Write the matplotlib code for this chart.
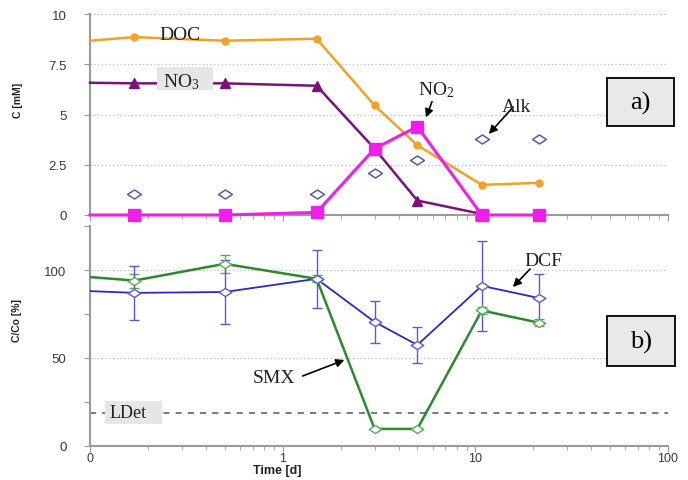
import matplotlib
matplotlib.use("Agg")
import matplotlib.pyplot as plt
from matplotlib.patches import Rectangle
from matplotlib.path import Path
from matplotlib.ticker import FixedLocator, LogLocator, NullFormatter

plt.rcParams["font.family"] = ["Liberation Sans", "DejaVu Sans"]
plt.rcParams["mathtext.fontset"] = "stix"

# data (first point of each line sits on the axis at t = 0.1)
time_d = [0.1, 0.17, 0.5, 1.5, 3, 5, 10.8, 21.5]
doc_mm = [8.67, 8.85, 8.67, 8.77, 5.45, 3.47, 1.5, 1.6]
no3_mm = [6.58, 6.55, 6.55, 6.43, 3.3, 0.72, 0.05]
no2_mm = [0, 0, 0, 0.13, 3.3, 4.4, 0, 0]
alk_time = [0.17, 0.5, 1.5, 3, 5, 10.8, 21.5]
alk_mm = [1.05, 1.05, 1.05, 2.1, 2.72, 3.8, 3.8]

smx_pct = [96, 94, 103.5, 95, 9.7, 9.7, 77, 70]
smx_err = [0, 4, 5, 2, 0, 0, 2, 2]
dcf_pct = [88, 87, 87.5, 95, 70.5, 57.4, 91, 84]
dcf_err = [0, 15.5, 18, 16.5, 12, 10, 25.5, 14]
ldet_pct = 19

W, H = 688, 481

ORANGE = "#f2a127"
PURPLE = "#7a127a"
MAGENTA = "#f01ee8"
NAVY = "#5a5aa8"
BLUE = "#2a2ac6"
GREEN = "#2b8a2b"
SPINE = "#9a9a9a"

# flat open diamond like the original markers
diamond = Path([(-1, 0), (0, 0.65), (1, 0), (0, -0.65), (-1, 0)],
               [Path.MOVETO, Path.LINETO, Path.LINETO, Path.LINETO, Path.CLOSEPOLY])


def px(x, y):
    return x / W, 1 - y / H


def style_axes(ax, yticks, ylabels, grid_vals, ylim):
    ax.set_xscale("log")
    ax.set_xlim(0.1, 100)
    ax.set_ylim(*ylim)
    for s in ("top", "right"):
        ax.spines[s].set_visible(False)
    for s in ("left", "bottom"):
        ax.spines[s].set_color(SPINE)
        ax.spines[s].set_linewidth(1.5)
    ax.yaxis.set_major_locator(FixedLocator(yticks))
    ax.set_yticklabels(ylabels)
    ax.xaxis.set_major_locator(FixedLocator([0.1, 1, 10, 100]))
    ax.xaxis.set_minor_locator(LogLocator(base=10, subs=range(2, 10)))
    ax.xaxis.set_minor_formatter(NullFormatter())
    ax.tick_params(axis="both", which="both", direction="out", color=SPINE,
                   labelcolor="#3a3a3a", labelsize=9.5)
    ax.tick_params(axis="x", which="major", length=4)
    ax.tick_params(axis="x", which="minor", length=3)
    ax.tick_params(axis="y", length=4, pad=13)
    for g in grid_vals:
        ax.axhline(g, color="#bdbdbd", lw=0.9, ls=(0, (1, 2)), zorder=0)
    ax.set_facecolor("none")


def label_box(fig, x0, y0, x1, y1, text, size, face="#e9e9e9", edge="black"):
    fx, fy = px(x0, y1)
    r = Rectangle((fx, fy), (x1 - x0) / W, (y1 - y0) / H, transform=fig.transFigure,
                  facecolor=face, edgecolor=edge, lw=1.3, zorder=5)
    fig.add_artist(r)
    cx, cy = px((x0 + x1) / 2, (y0 + y1) / 2)
    fig.text(cx, cy, text, ha="center", va="center", fontsize=size,
             family=["Liberation Serif"], zorder=6)


def grey_patch(fig, x0, y0, x1, y1):
    fx, fy = px(x0, y1)
    fig.add_artist(Rectangle((fx, fy), (x1 - x0) / W, (y1 - y0) / H,
                             transform=fig.transFigure, facecolor="#e6e6e6",
                             edgecolor="none", zorder=4))


def arrow(fig, text_xy, tip_xy, text, size=14):
    fig.add_artist(plt.Annotation(
        "", xy=px(*tip_xy), xytext=px(*text_xy[2:]), xycoords="figure fraction",
        textcoords="figure fraction",
        arrowprops=dict(arrowstyle="-|>", color="black", lw=1.2, mutation_scale=12),
        zorder=7))
    fig.text(*px(*text_xy[:2]), text, ha="center", va="center", fontsize=size,
             family=["Liberation Serif"], color="#222222", zorder=7)


fig = plt.figure(figsize=(W / 100, H / 100), dpi=100)

# panel a
ax1 = fig.add_axes([90 / W, 1 - 216 / H, 578 / W, 201 / H])
style_axes(ax1, [0, 2.5, 5, 7.5, 10], ["0", "2.5", "5", "7.5", "10"],
           [2.5, 5, 7.5, 10], (0, 10))
ax1.set_xticklabels([])
ax1.plot(time_d, doc_mm, color=ORANGE, lw=1.8, marker="o", ms=5,
         markevery=list(range(1, len(time_d))), clip_on=False, zorder=3)
ax1.plot(time_d[:len(no3_mm)], no3_mm, color=PURPLE, lw=1.8, marker="^", ms=7,
         markevery=list(range(1, len(no3_mm))), clip_on=False, zorder=3)
ax1.plot(time_d, no2_mm, color=MAGENTA, lw=2.2, marker="s", ms=8,
         markevery=list(range(1, len(time_d))), clip_on=False, zorder=4)
ax1.plot(alk_time, alk_mm, ls="none", marker=diamond, ms=10, mfc="white",
         mec=NAVY, mew=1.1, zorder=4)

# panel b
ax2 = fig.add_axes([90 / W, 1 - 447 / H, 578 / W, 220 / H])
style_axes(ax2, [0, 25, 50, 75, 100, 125], ["0", "", "50", "", "100", ""],
           [50, 100], (0, 125))
ax2.set_xticklabels(["0", "1", "10", "100"])
ax2.tick_params(axis="x", which="major", pad=0.5, labelsize=9)
ax2.axhline(ldet_pct, color="#555555", lw=1.1, ls=(0, (4, 4)), zorder=1)
ax2.plot(time_d, smx_pct, color=GREEN, lw=1.8, zorder=3)
ax2.errorbar(time_d[1:], smx_pct[1:], yerr=smx_err[1:], ls="none", marker=diamond,
             ms=9, mfc="white", mec="#5aaa5a", mew=1.0, ecolor="#5aaa5a",
             elinewidth=1, capsize=3.5, zorder=4)
ax2.plot(time_d, dcf_pct, color=BLUE, lw=1.3, zorder=3)
ax2.errorbar(time_d[1:], dcf_pct[1:], yerr=dcf_err[1:], ls="none", marker=diamond,
             ms=9, mfc="white", mec="#5a5ad8", mew=1.0, ecolor="#5a5ad0",
             elinewidth=1, capsize=3.5, zorder=4)

# axis titles
fig.text(*px(18, 100), "C [mM]", rotation=90, ha="center", va="center",
         fontsize=7.5, fontweight="bold", color="#222222")
fig.text(*px(17, 320), "C/Co [%]", rotation=90, ha="center", va="center",
         fontsize=7.5, fontweight="bold", color="#222222")
fig.text(*px(277, 471), "Time [d]", ha="center", va="center",
         fontsize=9, fontweight="bold", color="#222222")

# annotations
fig.text(*px(180, 36), "DOC", ha="center", va="center", fontsize=14,
         family=["Liberation Serif"], color="#222222", zorder=6)
grey_patch(fig, 157, 68, 213, 91)
fig.text(*px(181, 82), r"NO$_\mathregular{3}$", ha="center", va="center", fontsize=14,
         family=["Liberation Serif"], color="#222222", zorder=6)
grey_patch(fig, 105, 402, 162, 425)
fig.text(*px(128, 414), "LDet", ha="center", va="center", fontsize=13,
         family=["Liberation Serif"], color="#222222", zorder=6)

arrow(fig, (436, 90, 433, 100), (425, 121), r"NO$_\mathregular{2}$")
arrow(fig, (517, 108, 515, 106), (487, 137), "Alk")
arrow(fig, (543, 262, 532, 268), (511, 290), "DCF")
arrow(fig, (274, 379, 300, 378), (347, 360), "SMX")

label_box(fig, 607, 79, 674, 127, "a)", 19)
label_box(fig, 607, 317, 675, 367, "b)", 19)

fig.savefig("out.png", dpi=100)
